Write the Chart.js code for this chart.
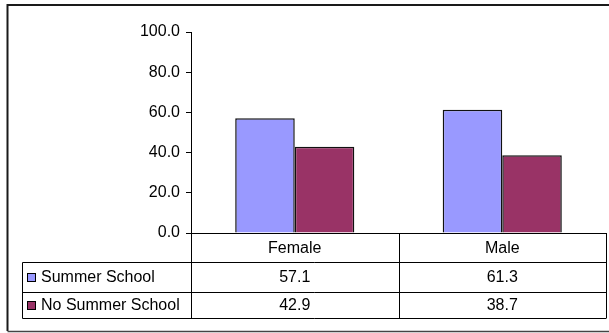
<!DOCTYPE html>
<html>
<head>
<meta charset="utf-8">
<script src="https://cdn.jsdelivr.net/npm/chart.js@4/dist/chart.umd.min.js"></script>
<style>
  html, body { margin: 0; padding: 0; background: #fff; }
  #wrap { width: 609px; height: 333px; }
</style>
</head>
<body>
<div id="wrap"><canvas id="c" width="609" height="333"></canvas></div>
<script>
// Categories and series values
const categories = ['Female', 'Male'];
const seriesNames = ['Summer School', 'No Summer School'];
const summerSchool = [57.1, 61.3];
const noSummerSchool = [42.9, 38.7];
const seriesColors = ['#9999FF', '#993366'];

const FONT = '"Liberation Sans", Arial, sans-serif';

// Outer frame drawn before the chart
const framePlugin = {
  id: 'frame',
  beforeDraw(chart) {
    const ctx = chart.ctx;
    ctx.save();
    ctx.fillStyle = '#fff';
    ctx.fillRect(0, 0, chart.width, chart.height);
    ctx.strokeStyle = '#1a1a1a';
    ctx.lineWidth = 2;
    ctx.beginPath();
    ctx.moveTo(7.5, 331);
    ctx.lineTo(7.5, 5);
    ctx.lineTo(609, 5);
    ctx.stroke();
    ctx.strokeStyle = '#444';
    ctx.lineWidth = 1.5;
    ctx.beginPath();
    ctx.moveTo(7.5, 331.5);
    ctx.lineTo(609, 331.5);
    ctx.stroke();
    ctx.restore();
  }
};

// Data table under the plot, aligned to the category scale
const tablePlugin = {
  id: 'dataTable',
  afterDraw(chart) {
    const ctx = chart.ctx;
    const x = chart.scales.x;
    const area = chart.chartArea;
    const top = area.bottom;
    const rowH = [29, 30, 26];
    const y1 = top + rowH[0];
    const y2 = y1 + rowH[1];
    const y3 = y2 + rowH[2];
    const legLeft = 22.5;
    const half = (x.getPixelForValue(1) - x.getPixelForValue(0)) / 2;
    const bounds = categories.map((_, i) => [x.getPixelForValue(i) - half, x.getPixelForValue(i) + half]);
    const left = bounds[0][0];
    const right = bounds[bounds.length - 1][1];

    ctx.save();
    ctx.strokeStyle = '#000';
    ctx.lineWidth = 1;
    ctx.beginPath();
    // horizontal rules
    ctx.moveTo(left, Math.round(top) + 0.5); ctx.lineTo(right, Math.round(top) + 0.5);
    [y1, y2, y3].forEach(y => { ctx.moveTo(legLeft, Math.round(y) + 0.5); ctx.lineTo(right, Math.round(y) + 0.5); });
    // vertical rules
    ctx.moveTo(legLeft, Math.round(y1) + 0.5); ctx.lineTo(legLeft, Math.round(y3) + 0.5);
    const vx = [left];
    bounds.forEach(b => vx.push(b[1]));
    vx.forEach(v => { const px = Math.round(v) + 0.5; ctx.moveTo(px, Math.round(top)); ctx.lineTo(px, Math.round(y3) + 0.5); });
    ctx.stroke();

    ctx.fillStyle = '#000';
    ctx.textBaseline = 'middle';
    ctx.textAlign = 'center';
    ctx.font = '16px ' + FONT;
    categories.forEach((c, i) => {
      ctx.fillText(c, x.getPixelForValue(i), (top + y1) / 2 + 1);
    });
    const rows = [[y1, y2], [y2, y3]];
    chart.data.datasets.forEach((ds, r) => {
      const cy = (rows[r][0] + rows[r][1]) / 2 + 1;
      ds.data.forEach((v, i) => {
        ctx.textAlign = 'center';
        ctx.fillText(v.toFixed(1), x.getPixelForValue(i), cy);
      });
      // legend key
      ctx.fillStyle = ds.backgroundColor;
      ctx.fillRect(27, Math.round(cy) - 5, 9, 9);
      ctx.strokeStyle = '#000';
      ctx.strokeRect(27.5, Math.round(cy) - 4.5, 8, 8);
      ctx.fillStyle = '#000';
      ctx.textAlign = 'left';
      ctx.fillText(ds.label, 41, cy);
    });
    ctx.restore();
  }
};

new Chart(document.getElementById('c'), {
  type: 'bar',
  data: {
    labels: categories,
    datasets: [
      { label: seriesNames[0], data: summerSchool, backgroundColor: seriesColors[0], borderColor: '#111', borderWidth: 1.5 },
      { label: seriesNames[1], data: noSummerSchool, backgroundColor: seriesColors[1], borderColor: '#111', borderWidth: 1.5 }
    ]
  },
  options: {
    responsive: false,
    animation: false,
    devicePixelRatio: 1,
    layout: { padding: { left: 0, top: 32, right: 3, bottom: 100 } },
    plugins: { legend: { display: false }, tooltip: { enabled: false } },
    datasets: { bar: { categoryPercentage: 0.574, barPercentage: 1.0 } },
    scales: {
      x: { display: false },
      y: {
        min: 0, max: 100,
        afterFit(scale) { scale.width = 191; },
        ticks: {
          stepSize: 20,
          color: '#000',
          padding: 6,
          font: { family: FONT, size: 16 },
          callback: v => Number(v).toFixed(1)
        },
        grid: { drawOnChartArea: false, tickLength: 5, color: '#000' },
        border: { color: '#000', width: 1 }
      }
    }
  },
  plugins: [framePlugin, tablePlugin]
});
</script>
</body>
</html>
